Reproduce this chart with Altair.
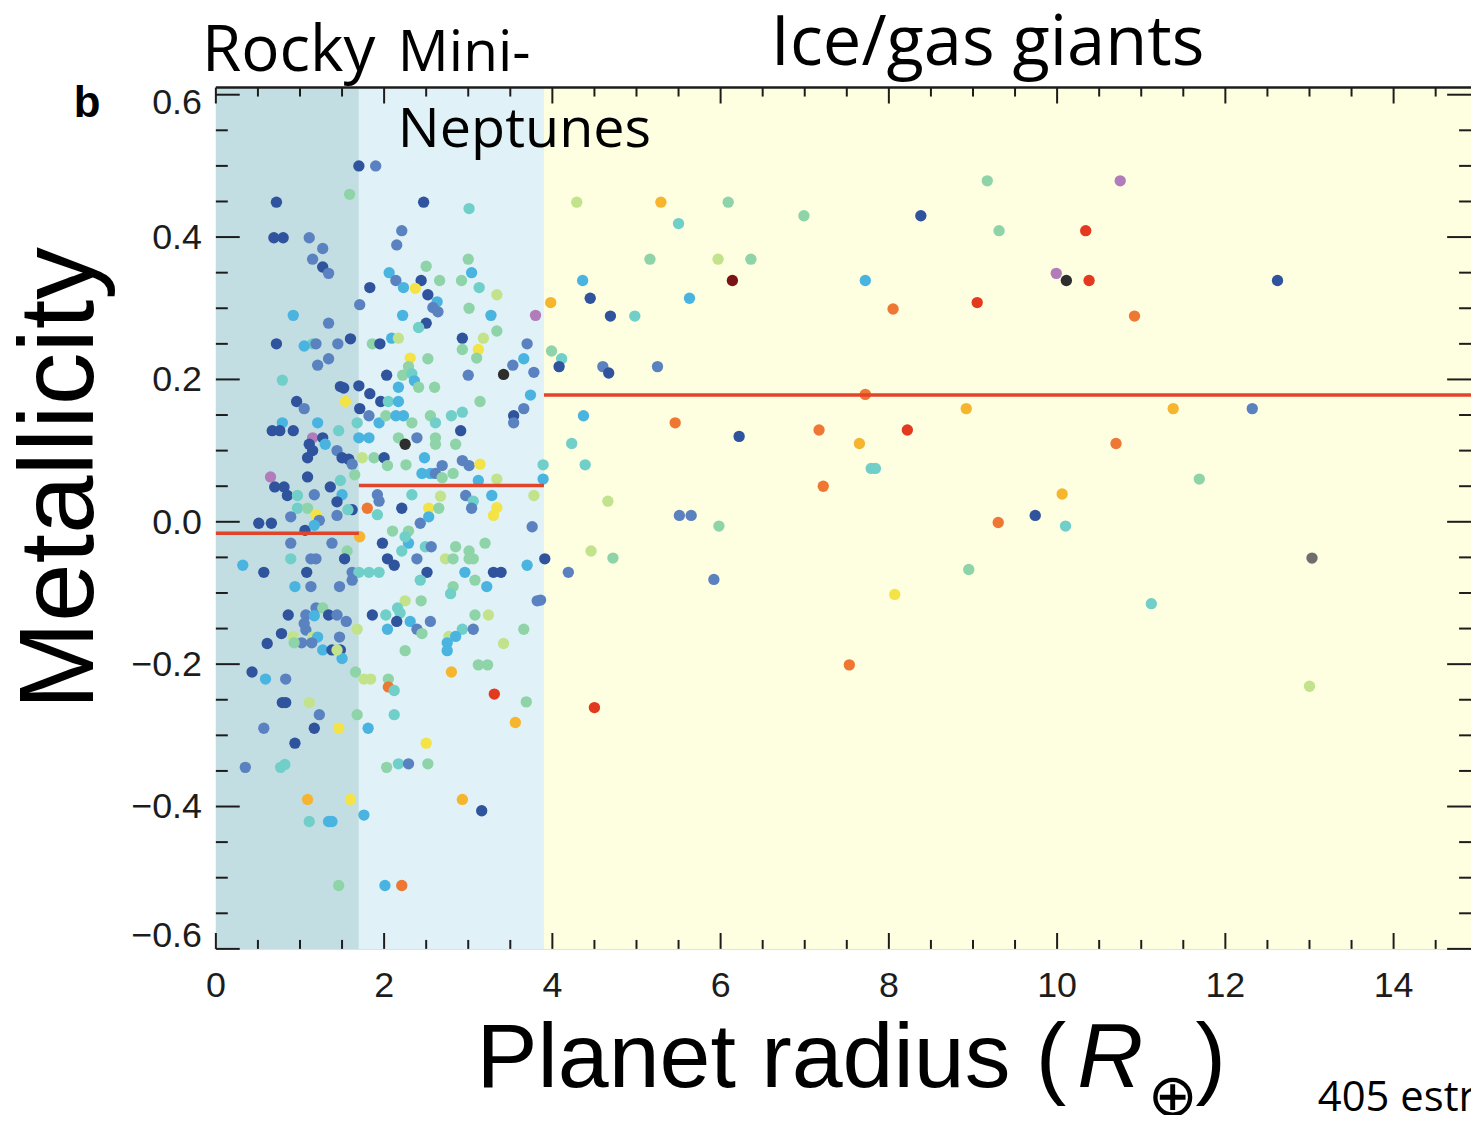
import altair as alt
import pandas as pd

# ---------------- data ----------------
radius = [
    1.70, 1.90, 0.72, 1.59, 2.47, 3.01, 0.69, 0.80, 1.11, 2.21,
    1.27, 2.15, 1.15, 1.27, 1.34, 3.00, 2.50, 2.06, 3.04, 2.14,
    2.44, 2.66, 2.92, 1.83, 2.23, 2.37, 3.13, 2.52, 3.34, 2.63,
    1.71, 2.58, 2.64, 3.01, 0.92, 2.22, 3.27, 3.80, 1.34, 2.50,
    2.41, 3.34, 0.72, 1.15, 1.19, 1.05, 1.45, 1.60, 1.86, 1.95,
    2.09, 2.17, 2.93, 3.18, 3.70, 3.12, 2.93, 1.34, 1.21, 0.79,
    1.48, 1.52, 1.70, 1.83, 0.96, 1.05, 1.54, 1.71, 1.96, 2.05,
    2.17, 2.31, 2.29, 2.52, 2.03, 2.22, 2.33, 2.36, 2.17, 2.41,
    2.60, 3.00, 3.42, 3.53, 3.66, 3.78, 3.10, 3.14, 3.74, 3.66,
    3.54, 3.54, 0.79, 0.67, 0.76, 0.92, 1.21, 1.46, 1.15, 1.27,
    1.30, 1.11, 1.15, 1.09, 1.44, 1.50, 1.58, 1.62, 1.68, 1.82,
    1.94, 2.02, 1.70, 1.82, 2.14, 2.23, 2.33, 2.17, 2.25, 2.39,
    2.55, 2.61, 2.80, 2.93, 2.91, 2.61, 2.61, 2.85, 1.74, 1.88,
    2.00, 2.04, 2.26, 2.48, 2.45, 2.55, 2.61, 2.69, 2.69, 2.82,
    2.93, 3.01, 3.14, 3.12, 3.34, 3.89, 3.89, 0.65, 0.70, 0.81,
    0.85, 0.97, 1.09, 1.17, 1.36, 1.48, 1.50, 1.44, 1.65, 0.97,
    1.09, 1.19, 1.23, 0.89, 1.44, 1.62, 1.57, 0.51, 0.66, 1.06,
    1.17, 1.92, 1.94, 1.80, 1.92, 2.21, 2.33, 2.53, 2.65, 2.67,
    2.97, 3.06, 3.04, 3.28, 3.34, 3.30, 3.78, 2.43, 2.53, 3.76,
    2.10, 2.29, 1.71, 0.89, 1.38, 1.56, 1.98, 2.29, 2.25, 2.49,
    2.56, 2.85, 3.01, 3.20, 0.32, 0.89, 1.13, 1.19, 1.53, 2.04,
    2.12, 2.21, 2.39, 2.73, 2.82, 3.01, 3.06, 3.70, 3.91, 0.57,
    1.08, 1.62, 1.70, 1.82, 1.94, 1.62, 2.51, 2.96, 3.30, 3.39,
    2.43, 3.08, 3.22, 2.82, 2.79, 0.94, 1.13, 1.47, 2.25, 2.44,
    2.16, 2.19, 3.82, 0.86, 1.07, 1.19, 1.27, 1.34, 1.44, 1.55,
    1.05, 1.17, 1.07, 0.78, 0.92, 1.02, 1.15, 1.21, 0.93, 1.27,
    1.38, 1.48, 1.50, 1.44, 1.14, 1.47, 0.61, 1.68, 1.86, 2.02,
    2.04, 2.15, 2.31, 2.55, 2.39, 2.45, 2.25, 2.77, 2.93, 2.85,
    2.75, 2.75, 3.08, 3.24, 3.06, 3.42, 3.66, 3.12, 3.23, 2.80,
    3.31, 3.69, 3.56, 0.43, 0.59, 0.83, 0.79, 0.83, 1.11, 1.23,
    1.66, 1.76, 1.84, 2.05, 2.05, 2.12, 1.68, 2.12, 0.57, 1.17,
    1.46, 1.81, 0.94, 2.50, 0.35, 0.77, 0.82, 2.03, 2.17, 2.29,
    2.52, 1.09, 1.60, 2.93, 3.16, 1.11, 1.34, 1.38, 1.76, 1.46,
    2.01, 2.21, 4.29, 5.29, 6.09, 5.50, 6.99, 8.38, 9.17, 9.31,
    5.16, 5.97, 6.36, 4.36, 6.14, 7.72, 3.98, 4.45, 5.63, 8.05,
    9.05, 4.69, 4.98, 3.99, 4.11, 4.08, 4.60, 4.67, 5.25, 7.72,
    4.37, 8.92, 5.46, 7.17, 8.22, 6.22, 7.65, 4.23, 4.39, 7.79,
    7.84, 10.75, 10.34, 9.99, 10.11, 10.38, 12.62, 10.92, 11.38, 12.32,
    10.70, 7.22, 4.66, 11.69, 10.06, 5.51, 5.65, 5.98, 9.30, 9.74,
    10.10, 4.46, 4.72, 4.19, 5.92, 8.95, 13.03, 3.86, 8.07, 11.12,
    7.53, 13.00, 4.50,
]

metallicity = [
    0.500, 0.500, 0.449, 0.460, 0.449, 0.440, 0.399, 0.399, 0.399, 0.409,
    0.384, 0.389, 0.369, 0.358, 0.349, 0.369, 0.359, 0.350, 0.350, 0.339,
    0.339, 0.339, 0.339, 0.329, 0.329, 0.328, 0.329, 0.319, 0.319, 0.309,
    0.305, 0.301, 0.295, 0.300, 0.290, 0.290, 0.290, 0.290, 0.279, 0.279,
    0.273, 0.268, 0.250, 0.250, 0.250, 0.247, 0.250, 0.257, 0.250, 0.250,
    0.258, 0.258, 0.258, 0.258, 0.250, 0.242, 0.242, 0.229, 0.220, 0.199,
    0.190, 0.188, 0.191, 0.180, 0.169, 0.159, 0.169, 0.159, 0.169, 0.169,
    0.169, 0.230, 0.218, 0.229, 0.206, 0.206, 0.208, 0.198, 0.189, 0.189,
    0.189, 0.206, 0.207, 0.220, 0.229, 0.210, 0.230, 0.169, 0.178, 0.159,
    0.149, 0.139, 0.139, 0.128, 0.128, 0.128, 0.139, 0.128, 0.118, 0.118,
    0.109, 0.109, 0.100, 0.090, 0.100, 0.090, 0.088, 0.081, 0.139, 0.149,
    0.139, 0.149, 0.118, 0.118, 0.149, 0.149, 0.139, 0.118, 0.109, 0.118,
    0.149, 0.139, 0.149, 0.154, 0.128, 0.118, 0.109, 0.109, 0.090, 0.090,
    0.090, 0.079, 0.080, 0.090, 0.068, 0.068, 0.068, 0.079, 0.062, 0.068,
    0.086, 0.079, 0.081, 0.058, 0.060, 0.080, 0.060, 0.063, 0.049, 0.049,
    0.037, 0.037, 0.063, 0.038, 0.049, 0.058, 0.038, 0.028, 0.066, 0.019,
    0.019, 0.010, 0.002, 0.007, 0.009, 0.017, 0.017, -0.002, -0.002, -0.012,
    -0.005, 0.038, 0.029, 0.019, 0.010, 0.019, 0.038, 0.019, 0.019, 0.036,
    0.037, 0.029, 0.019, 0.037, 0.020, 0.009, 0.037, -0.002, 0.007, -0.007,
    -0.013, -0.013, -0.021, -0.030, -0.030, -0.041, -0.030, -0.030, -0.021, -0.035,
    -0.035, -0.035, -0.041, -0.030, -0.061, -0.052, -0.052, -0.052, -0.052, -0.052,
    -0.061, -0.041, -0.052, -0.052, -0.052, -0.052, -0.052, -0.061, -0.052, -0.071,
    -0.071, -0.071, -0.071, -0.071, -0.071, -0.082, -0.071, -0.071, -0.071, -0.071,
    -0.082, -0.082, -0.091, -0.091, -0.101, -0.091, -0.091, -0.091, -0.111, -0.111,
    -0.121, -0.128, -0.111, -0.131, -0.131, -0.121, -0.121, -0.131, -0.131, -0.140,
    -0.143, -0.132, -0.152, -0.157, -0.161, -0.170, -0.162, -0.162, -0.170, -0.180,
    -0.180, -0.180, -0.192, -0.180, -0.170, -0.162, -0.171, -0.151, -0.131, -0.131,
    -0.151, -0.140, -0.140, -0.140, -0.151, -0.157, -0.181, -0.161, -0.151, -0.161,
    -0.170, -0.181, -0.131, -0.131, -0.151, -0.171, -0.151, -0.201, -0.201, -0.211,
    -0.242, -0.253, -0.282, -0.211, -0.221, -0.221, -0.254, -0.254, -0.254, -0.271,
    -0.211, -0.221, -0.221, -0.221, -0.232, -0.237, -0.271, -0.271, -0.290, -0.290,
    -0.290, -0.290, -0.311, -0.311, -0.345, -0.345, -0.341, -0.345, -0.340, -0.340,
    -0.340, -0.390, -0.390, -0.390, -0.406, -0.421, -0.421, -0.421, -0.412, -0.511,
    -0.511, -0.511, 0.449, 0.449, 0.449, 0.419, 0.430, 0.430, 0.479, 0.409,
    0.369, 0.369, 0.369, 0.339, 0.339, 0.339, 0.308, 0.314, 0.314, 0.299,
    0.308, 0.289, 0.289, 0.240, 0.229, 0.218, 0.218, 0.209, 0.218, 0.179,
    0.149, 0.159, 0.139, 0.129, 0.129, 0.120, 0.110, 0.110, 0.080, 0.075,
    0.075, 0.479, 0.409, 0.349, 0.339, 0.339, 0.339, 0.289, 0.159, 0.159,
    0.110, 0.050, 0.029, 0.060, 0.039, 0.009, 0.009, -0.006, -0.001, 0.009,
    -0.006, -0.041, -0.051, -0.071, -0.081, -0.067, -0.051, -0.110, -0.102, -0.115,
    -0.201, -0.231, -0.261,
]

group = list(
    "DMDGDTDDMM" "MMMDMGGSSM" "DGGDSYTDLS" "MMMGSSSPMD" "TGDTMSMDGD"
    "SLDLMYGMMT" "DDDDDMYDDT" "SYGGDGTSSG" "GMBMSMGGSM" "DMSDDDSTPD"
    "SDDDMDDMTM" "SGSSSSGGBM" "GTTTDGGGLG" "DGGSSSMMGG" "MMYSLTSPDD"
    "DTDMDTSDGT" "GYMMMDTDDD" "SMMRTDTYGL" "MTMSYYLMSM" "GGOMMGDSTT"
    "MGGGSTMMDD" "DTMLGGGSDD" "DMTTTMDSDD" "TGSGTSMMLG" "TTMDMMGDMM"
    "MSMDLMLSGS" "DDSLMMDLDT" "SDSMMGGLTS" "SSGLMLGGGO" "EGODSMDDLM"
    "GLLGRTGTMD" "YSDYMTTGTM" "GOYODTSSSG" "SRLOGTGDGG" "GLGSKSODSR"
    "EDTGTDMDMR" "SORREDOTTT" "TPEPBEDROM" "RRLGOMMGRD" "TLGMMGAMYT"
    "RLE"
)

group_codes = ["D", "M", "S", "T", "G", "L", "Y", "O", "R", "E", "K", "P", "B", "A"]
group_colors = ["#2f539c", "#5b82c0", "#4ab4e0", "#70cfc8", "#8fd4a8", "#c2e38c",
                "#f3e346", "#f6b52f", "#ee7833", "#e2391f", "#7a1414", "#b27cba",
                "#2e2e2e", "#6e6e6e"]

band_start = [0.0, 1.7, 3.9]
band_end = [1.7, 3.9, 14.92]
band_kind = ["Rocky", "Mini-Neptunes", "Ice/gas giants"]
band_colors = ["#c3dee3", "#e0f2f7", "#fefee1"]

mean_start = [0.0, 1.7, 3.9]
mean_end = [1.7, 3.9, 14.92]
mean_value = [-0.016, 0.051, 0.178]

x_major = [0, 2, 4, 6, 8, 10, 12, 14]
x_labels = ["0", "2", "4", "6", "8", "10", "12", "14"]
x_minor = [0.5, 1, 1.5, 2.5, 3, 3.5, 4.5, 5, 5.5, 6.5, 7, 7.5, 8.5, 9, 9.5,
           10.5, 11, 11.5, 12.5, 13, 13.5, 14.5]
y_major = [-0.6, -0.4, -0.2, 0.0, 0.2, 0.4, 0.6]
y_labels = ["\u22120.6", "\u22120.4", "\u22120.2", "0.0", "0.2", "0.4", "0.6"]
y_minor = [-0.55, -0.5, -0.45, -0.35, -0.3, -0.25, -0.15, -0.1, -0.05,
           0.05, 0.1, 0.15, 0.25, 0.3, 0.35, 0.45, 0.5, 0.55]

# ---------------- chart ----------------
XMAX = 14.92
YMIN, YMAX = -0.6, 0.61
W, H = 1262, 866
FONT = "Liberation Sans"
INK = "#1c1c1c"

xs = alt.Scale(domain=[0, XMAX], nice=False, zero=False)
ys = alt.Scale(domain=[YMIN, YMAX], nice=False, zero=False)

xax = alt.Axis(values=x_major, labels=False, ticks=False, grid=False, domain=True,
               domainColor=INK, domainWidth=2.5, title=None)
yax = alt.Axis(values=y_major, labels=False, ticks=False, grid=False, domain=True,
               domainColor=INK, domainWidth=2.5, title=None)

pts_df = pd.DataFrame({"radius": radius, "metallicity": metallicity, "group": group})
band_df = pd.DataFrame({"start": band_start, "end": band_end, "kind": band_kind})
mean_df = pd.DataFrame({"start": mean_start, "end": mean_end, "mean": mean_value})

bands = alt.Chart(band_df).mark_rect().encode(
    x=alt.X("start:Q", scale=xs, axis=None),
    x2="end:Q",
    y=alt.YDatum(YMIN, axis=None),
    y2=alt.Y2Datum(YMAX),
    fill=alt.Fill("kind:N", scale=alt.Scale(domain=band_kind, range=band_colors), legend=None),
)

points = alt.Chart(pts_df).mark_circle(size=130, opacity=1).encode(
    x=alt.X("radius:Q", scale=xs, axis=xax),
    y=alt.Y("metallicity:Q", scale=ys, axis=yax),
    color=alt.Color("group:N", scale=alt.Scale(domain=group_codes, range=group_colors), legend=None),
)

means = alt.Chart(mean_df).mark_rule(color="#e0452b", strokeWidth=3.5).encode(
    x=alt.X("start:Q", scale=xs, axis=None),
    x2="end:Q",
    y=alt.Y("mean:Q", scale=ys, axis=None),
)


def xticks(vals, length, top):
    off = length / 2 if top else -length / 2
    return alt.Chart(pd.DataFrame({"v": vals})).mark_tick(
        orient="vertical", size=length, thickness=2, color=INK, yOffset=off, opacity=1
    ).encode(x=alt.X("v:Q", scale=xs, axis=None), y=alt.YDatum(YMAX if top else YMIN, axis=None))


def yticks(vals, length, right):
    off = -length / 2 if right else length / 2
    return alt.Chart(pd.DataFrame({"v": vals})).mark_tick(
        orient="horizontal", size=length, thickness=2, color=INK, xOffset=off, opacity=1
    ).encode(y=alt.Y("v:Q", scale=ys, axis=None), x=alt.XDatum(XMAX if right else 0, axis=None))


top_line = alt.Chart(pd.DataFrame({"a": [0]})).mark_rule(color=INK, strokeWidth=2.5).encode(
    x=alt.XDatum(0, axis=None), x2=alt.X2Datum(XMAX), y=alt.YDatum(YMAX, axis=None)
)

# tick labels
xlab = alt.Chart(pd.DataFrame({"v": x_major, "t": x_labels})).mark_text(
    baseline="top", align="center", dy=20, font=FONT, fontSize=36, color=INK
).encode(x=alt.X("v:Q", scale=xs, axis=None), y=alt.YDatum(YMIN, axis=None), text="t:N")


def ylab(vals, labels, dy):
    return alt.Chart(pd.DataFrame({"v": vals, "t": labels})).mark_text(
        baseline="middle", align="right", dx=-14, dy=dy, font=FONT, fontSize=36, color=INK
    ).encode(y=alt.Y("v:Q", scale=ys, axis=None), x=alt.XDatum(0, axis=None), text="t:N")


ylab_mid = ylab(y_major[1:-1], y_labels[1:-1], 1)
ylab_top = ylab(y_major[-1:], y_labels[-1:], 8)
ylab_bot = ylab(y_major[:1], y_labels[:1], -13)


def label(text, x, y, size, font, weight="normal", style="normal", angle=0, align="left"):
    return alt.Chart(pd.DataFrame({"t": [text]})).mark_text(
        align=align, baseline="alphabetic", font=font, fontSize=size,
        fontWeight=weight, fontStyle=style, angle=angle, color="#000000"
    ).encode(x=alt.value(x), y=alt.value(y), text="t:N")


texts = [
    label("Rocky", -14, -17, 64, "Open Sans"),
    label("Mini-", 183, -17, 57, "Open Sans"),
    label("Neptunes", 183, 60, 56, "Open Sans"),
    label("Ice/gas giants", 558, -23, 69, "Open Sans"),
    label("405 estr", 1108, 1029, 42, "Open Sans"),
    label("b", -143, 30, 44, FONT, weight="bold"),
    label("Metallicity", -124, 393, 106, FONT, angle=270, align="center"),
    label("Planet radius (", 262, 1005, 92, FONT),
    label("R", 866, 1005, 92, FONT, style="italic"),
    label("\u2295", 937, 1034, 60, "DejaVu Sans"),
    label(")", 985, 1005, 92, FONT),
]

chart = alt.layer(
    bands, points, means,
    xticks(x_major, 16, False), xticks(x_minor, 9, False),
    xticks(x_major, 16, True), xticks(x_minor, 9, True),
    yticks(y_major, 24, False), yticks(y_minor, 12, False),
    yticks(y_major, 24, True), yticks(y_minor, 12, True),
    top_line, xlab, ylab_mid, ylab_top, ylab_bot,
    *texts,
).properties(
    width=W, height=H,
    autosize=alt.AutoSizeParams(type="none"),
    padding={"left": 209, "top": 77, "right": 0, "bottom": 164},
).configure_view(stroke=None).configure(background="white")

chart.save("out.html", embed_options={"renderer": "svg", "actions": False})
